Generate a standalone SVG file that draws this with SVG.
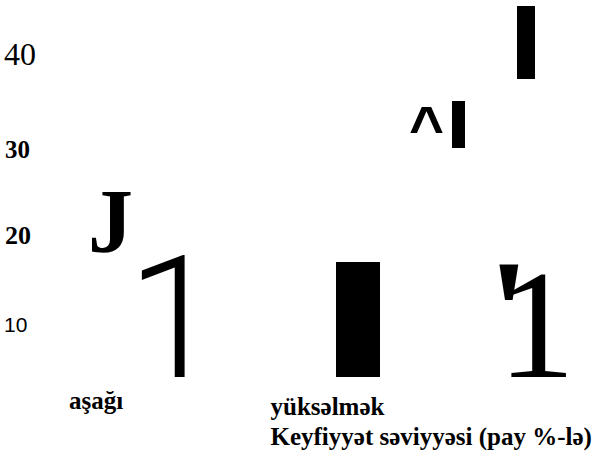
<svg xmlns="http://www.w3.org/2000/svg" width="595" height="453" viewBox="0 0 595 453">
<style>
text{fill:#000}
.bar{fill:#000}
</style>
<rect width="595" height="453" fill="#fff"/>
<g id="axis-labels">
<text font-family="Liberation Serif, serif" x="4" y="65" font-size="32">40</text>
<text font-family="Liberation Serif, serif" font-weight="bold" x="5" y="158" font-size="25">30</text>
<text font-family="Liberation Serif, serif" font-weight="bold" x="5" y="244" font-size="26">20</text>
<text font-family="Liberation Sans, sans-serif" x="4" y="332" font-size="21">10</text>
</g>
<g id="marks">
<text font-family="Liberation Serif, serif" font-weight="bold" x="88" y="252" font-size="90">J</text>
<text font-family="Roboto, Liberation Sans, sans-serif" font-weight="300" x="127" y="377" font-size="170">1</text>
<text font-family="Liberation Sans, sans-serif" font-weight="bold" x="409" y="148" font-size="60">^</text>
<rect class="bar" x="452" y="101" width="13" height="47"/>
<rect class="bar" x="517" y="6" width="18" height="73"/>
<rect class="bar" x="336" y="262" width="44" height="115"/>
<text font-family="Liberation Serif, serif" font-weight="bold" x="488" y="363" font-size="150">'</text>
<text font-family="Liberation Serif, serif" x="497.8" y="376.7" font-size="155">1</text>
</g>
<g id="x-labels" font-family="Liberation Serif, serif" font-weight="bold" font-size="25">
<text x="69" y="409">aşağı</text>
<text x="270.5" y="414.5">yüksəlmək</text>
<text x="270.5" y="445">Keyfiyyət səviyyəsi (pay %-lə)</text>
</g>
</svg>
